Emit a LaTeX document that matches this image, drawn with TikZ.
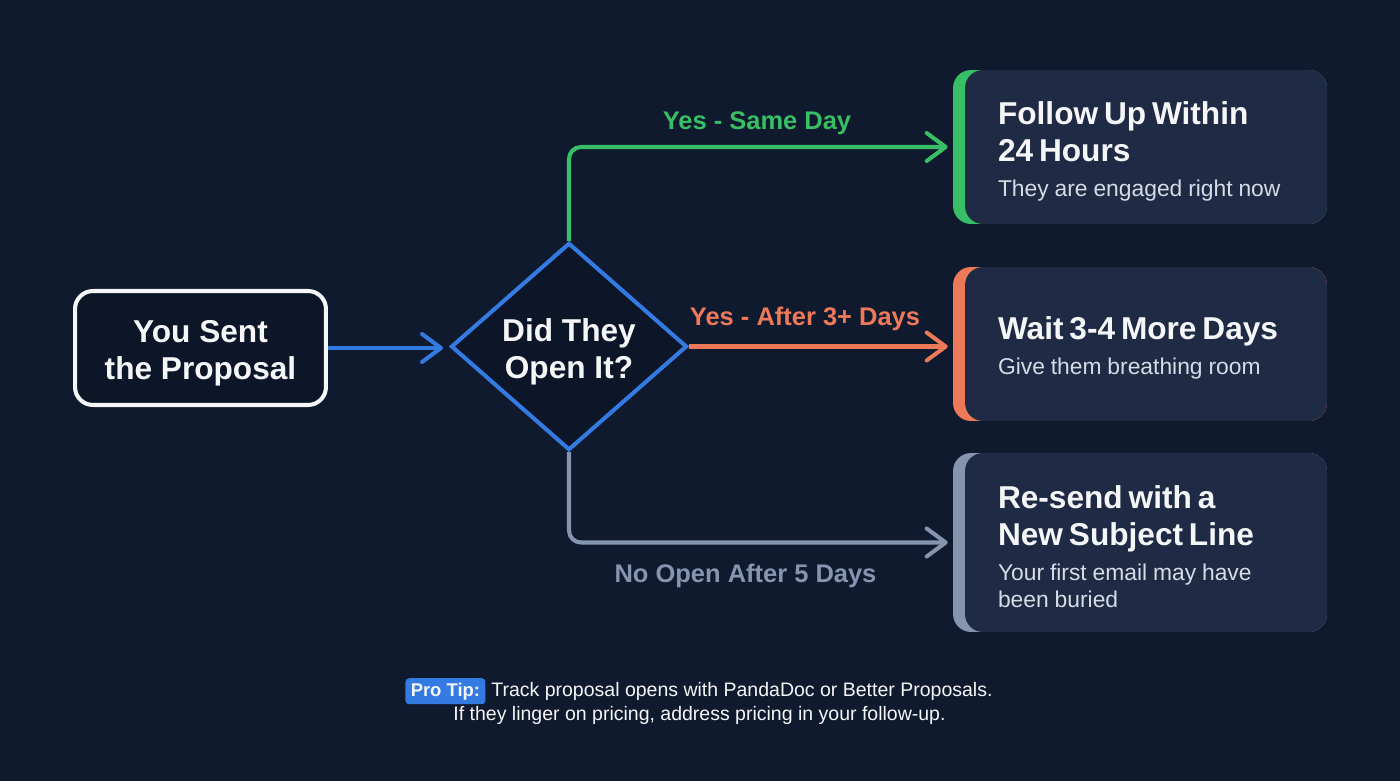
\documentclass[tikz,border=0pt]{standalone}
\usepackage{fontspec}
\setmainfont{Liberation Sans}
\usetikzlibrary{shapes.geometric, arrows.meta, positioning, calc}
\definecolor{cBg}{RGB}{16,26,46}
\definecolor{cCard}{RGB}{31,43,68}
\definecolor{cStart}{RGB}{13,22,40}
\definecolor{cBlue}{RGB}{51,122,226}
\definecolor{cGreen}{RGB}{56,190,100}
\definecolor{cOrange}{RGB}{238,121,88}
\definecolor{cGray}{RGB}{133,149,176}
\definecolor{cText}{RGB}{245,246,248}
\definecolor{cSub}{RGB}{214,220,230}
\newcommand{\cardtitle}[1]{{\fontsize{18}{21}\selectfont\bfseries\color{cText}#1\par}\vspace{4.5pt}}
\newcommand{\cardsub}[1]{{\fontsize{13}{15.4}\selectfont\color{cSub}#1\par}}
\newcommand{\lowtext}[1]{\raisebox{-3.4pt}[\height][\depth]{\begin{tabular}{@{}c@{}}#1\end{tabular}}}
\tikzset{
	startbox/.style ={rectangle, rounded corners=0.36cm, draw=cText, line width=2.3pt, fill=cStart, minimum width=5.02cm, minimum height=2.28cm, align=center, text=cText, font=\fontsize{18}{21}\selectfont\bfseries},
	decision/.style ={diamond, draw=cBlue, line width=2.3pt, fill=cStart, minimum width=4.72cm, minimum height=4.06cm, inner sep=0pt, align=center, text=cText, font=\fontsize{18}{21}\selectfont\bfseries},
	card/.style     ={rectangle, rounded corners=0.36cm, minimum width=7.48cm, fill=#1, path picture={\fill[cCard, rounded corners=0.36cm] ([xshift=0.24cm]path picture bounding box.south west) rectangle ([xshift=1cm]path picture bounding box.north east);}},
	cardtext/.style ={anchor=west, inner sep=0pt, text width=6.4cm, align=left},
	flowarrow/.style={-{Straight Barb[length=0.38cm, width=0.56cm, round]}, line width=2.3pt, rounded corners=0.24cm},
	branchlbl/.style={inner sep=0pt, font=\fontsize{14.5}{17}\selectfont\bfseries},
	protag/.style   ={rectangle, rounded corners=2pt, fill=cBlue, text=cText, inner xsep=3pt, inner ysep=2.5pt, font=\fontsize{10.5}{12.5}\selectfont\bfseries},
	tiptext/.style  ={text=cText, inner sep=0pt, font=\fontsize{11.1}{13}\selectfont},
}
\begin{document}
\begin{tikzpicture}[x=0.02cm, y=-0.02cm]
	\useasboundingbox[fill=cBg] (0,0) rectangle (1400,781);
	\node[startbox] (sent) at (200.5,348) {\lowtext{You Sent\\the Proposal}};
	\node[decision] (open) at (569,346.5) {\lowtext{Did They\\Open It?}};
	\node[card=cGreen, minimum height=3.08cm] (fast) at (1140,147) {};
	\node[card=cOrange, minimum height=3.08cm] (wait) at (1140,344) {};
	\node[card=cGray, minimum height=3.58cm] (resend) at (1140,542.5) {};
	\node[cardtext] (fastTxt) at ([xshift=0.9cm, yshift=-0.08cm]fast.west) {\cardtitle{Follow Up Within\\24 Hours}\cardsub{They are engaged right now}};
	\node[cardtext] (waitTxt) at ([xshift=0.9cm, yshift=-0.07cm]wait.west) {\cardtitle{Wait 3-4 More Days}\cardsub{Give them breathing room}};
	\node[cardtext] (resendTxt) at ([xshift=0.9cm, yshift=-0.08cm]resend.west) {\cardtitle{Re-send with a\\New Subject Line}\cardsub{Your first email may have\\been buried}};
	\draw[flowarrow, cBlue, shorten >=0.12cm] (sent.east) -- (sent.east -| open.west);
	\draw[flowarrow, cGreen, shorten >=0.1cm] (open.north) |- (fast.west) node[branchlbl, pos=0.745, above=6pt] {Yes - Same Day};
	\draw[flowarrow, cOrange, shorten >=0.1cm] (open.east) -- (open.east -| wait.west) node[branchlbl, pos=0.44, above=8pt] {Yes - After 3+ Days};
	\draw[flowarrow, cGray, shorten >=0.1cm] (open.south) |- (resend.west) node[branchlbl, pos=0.73, below=11pt] {No Open After 5 Days};
	% tip at the foot
	\node[tiptext, anchor=base west] (tip1) at (491,696) {Track proposal opens with PandaDoc or Better Proposals.};
	\node[protag, anchor=base east] (pro) at ([xshift=-3pt]tip1.base west) {Pro Tip:};
	\node[tiptext, anchor=base] (tip2) at (699.5,720) {If they linger on pricing, address pricing in your follow-up.};
\end{tikzpicture}
\end{document}
